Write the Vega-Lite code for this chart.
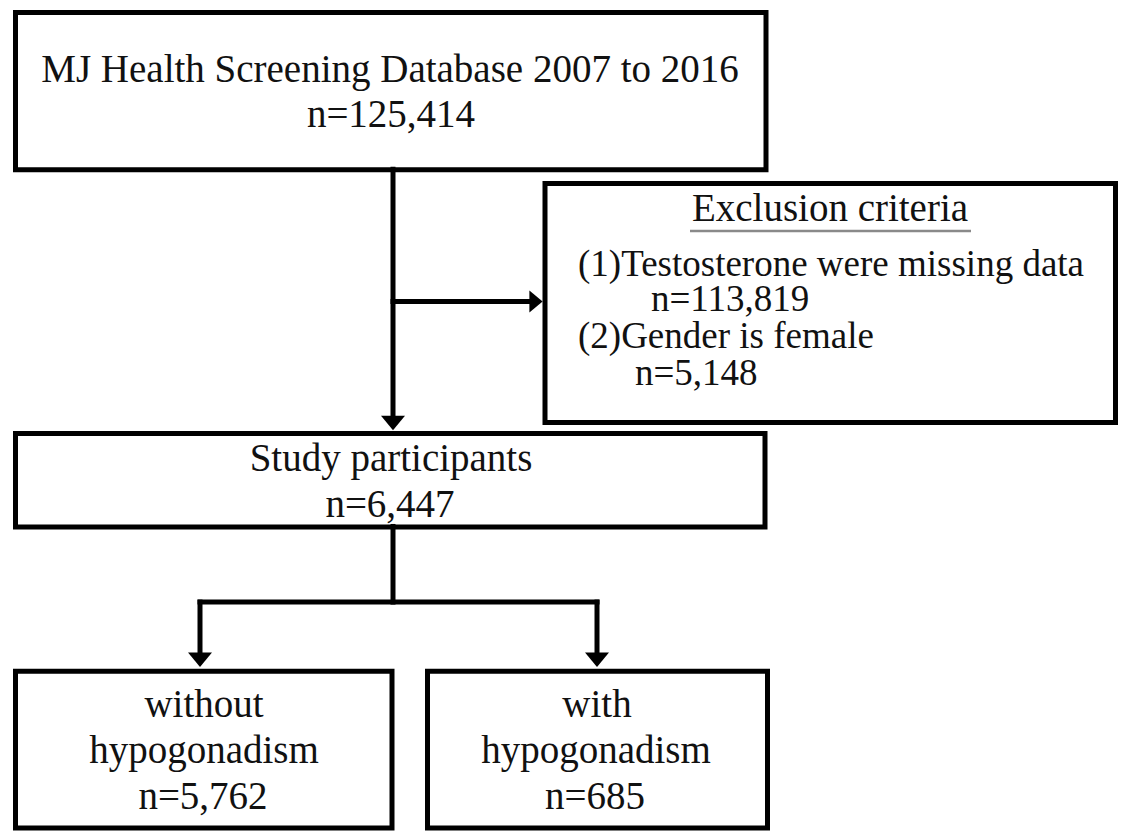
{
  "$schema": "https://vega.github.io/schema/vega-lite/v6.json",
  "width": 1123,
  "height": 831,
  "padding": 0,
  "autosize": {"type": "fit", "contains": "padding"},
  "background": "white",
  "config": {"view": {"stroke": null}},
  "datasets": {
    "boxes": [
      {"id": "source", "x": 15.5, "x2": 766, "y": 12.5, "y2": 170.5},
      {"id": "exclusion", "x": 545, "x2": 1115.5, "y": 184.5, "y2": 424.5},
      {"id": "study", "x": 15.5, "x2": 765, "y": 435.5, "y2": 529.5},
      {"id": "without", "x": 15.5, "x2": 392, "y": 674.5, "y2": 832},
      {"id": "with", "x": 427.5, "x2": 767.5, "y": 674.5, "y2": 832}
    ],
    "lines": [
      {"x": 393, "y": 170, "x2": 393, "y2": 420},
      {"x": 393, "y": 303, "x2": 530, "y2": 303},
      {"x": 393, "y": 529, "x2": 393, "y2": 605},
      {"x": 200, "y": 605, "x2": 597, "y2": 605},
      {"x": 200, "y": 605, "x2": 200, "y2": 658},
      {"x": 597, "y": 605, "x2": 597, "y2": 658}
    ],
    "underline": [
      {"x": 690, "y": 232, "x2": 971, "y2": 232}
    ],
    "arrows": [
      {"dir": "down", "x": 393, "y": 425},
      {"dir": "right", "x": 536, "y": 303},
      {"dir": "down", "x": 200, "y": 663},
      {"dir": "down", "x": 597, "y": 663}
    ],
    "labels": [
      {"group": "center", "x": 390, "y": 82, "text": "MJ Health Screening Database 2007 to 2016"},
      {"group": "center", "x": 391, "y": 128, "text": "n=125,414"},
      {"group": "center", "x": 830, "y": 222, "text": "Exclusion criteria"},
      {"group": "center", "x": 391, "y": 473, "text": "Study participants"},
      {"group": "center", "x": 390, "y": 520, "text": "n=6,447"},
      {"group": "center", "x": 204, "y": 720, "text": "without"},
      {"group": "center", "x": 204, "y": 767, "text": "hypogonadism"},
      {"group": "center", "x": 203, "y": 813, "text": "n=5,762"},
      {"group": "center", "x": 597, "y": 720, "text": "with"},
      {"group": "center", "x": 596, "y": 767, "text": "hypogonadism"},
      {"group": "center", "x": 595, "y": 813, "text": "n=685"},
      {"group": "left", "x": 578, "y": 277, "text": "(1)Testosterone were missing data"},
      {"group": "left", "x": 651, "y": 313, "text": "n=113,819"},
      {"group": "left", "x": 578, "y": 350, "text": "(2)Gender is female"},
      {"group": "left", "x": 635, "y": 387, "text": "n=5,148"}
    ]
  },
  "layer": [
    {
      "data": {"name": "boxes"},
      "mark": {"type": "rect", "fill": "white", "stroke": "black", "strokeWidth": 5},
      "encoding": {
        "x": {"field": "x", "type": "quantitative", "scale": {"domain": [0, 1123], "nice": false, "zero": false}, "axis": null},
        "x2": {"field": "x2"},
        "y": {"field": "y", "type": "quantitative", "scale": {"domain": [0, 831], "nice": false, "zero": false, "reverse": true}, "axis": null},
        "y2": {"field": "y2"}
      }
    },
    {
      "data": {"name": "lines"},
      "mark": {"type": "rule", "color": "black", "strokeWidth": 5, "strokeCap": "square"},
      "encoding": {
        "x": {"field": "x", "type": "quantitative", "axis": null},
        "x2": {"field": "x2"},
        "y": {"field": "y", "type": "quantitative", "axis": null},
        "y2": {"field": "y2"}
      }
    },
    {
      "data": {"name": "underline"},
      "mark": {"type": "rule", "color": "#8a8a8a", "strokeWidth": 2.5},
      "encoding": {
        "x": {"field": "x", "type": "quantitative", "axis": null},
        "x2": {"field": "x2"},
        "y": {"field": "y", "type": "quantitative", "axis": null},
        "y2": {"field": "y2"}
      }
    },
    {
      "data": {"name": "arrows"},
      "transform": [{"filter": "datum.dir == 'down'"}],
      "mark": {"type": "point", "shape": "M-1,-0.6L1,-0.6L0,0.6Z", "filled": true, "color": "black", "opacity": 1, "size": 576},
      "encoding": {
        "x": {"field": "x", "type": "quantitative", "axis": null},
        "y": {"field": "y", "type": "quantitative", "axis": null}
      }
    },
    {
      "data": {"name": "arrows"},
      "transform": [{"filter": "datum.dir == 'right'"}],
      "mark": {"type": "point", "shape": "M-0.6,-1L0.6,0L-0.6,1Z", "filled": true, "color": "black", "opacity": 1, "size": 484},
      "encoding": {
        "x": {"field": "x", "type": "quantitative", "axis": null},
        "y": {"field": "y", "type": "quantitative", "axis": null}
      }
    },
    {
      "data": {"name": "labels"},
      "transform": [{"filter": "datum.group == 'center'"}],
      "mark": {"type": "text", "font": "Liberation Serif", "fontSize": 39, "align": "center", "baseline": "alphabetic", "color": "#111111"},
      "encoding": {
        "x": {"field": "x", "type": "quantitative", "axis": null},
        "y": {"field": "y", "type": "quantitative", "axis": null},
        "text": {"field": "text"}
      }
    },
    {
      "data": {"name": "labels"},
      "transform": [{"filter": "datum.group == 'left'"}],
      "mark": {"type": "text", "font": "Liberation Serif", "fontSize": 37, "align": "left", "baseline": "alphabetic", "color": "#111111"},
      "encoding": {
        "x": {"field": "x", "type": "quantitative", "axis": null},
        "y": {"field": "y", "type": "quantitative", "axis": null},
        "text": {"field": "text"}
      }
    }
  ]
}
